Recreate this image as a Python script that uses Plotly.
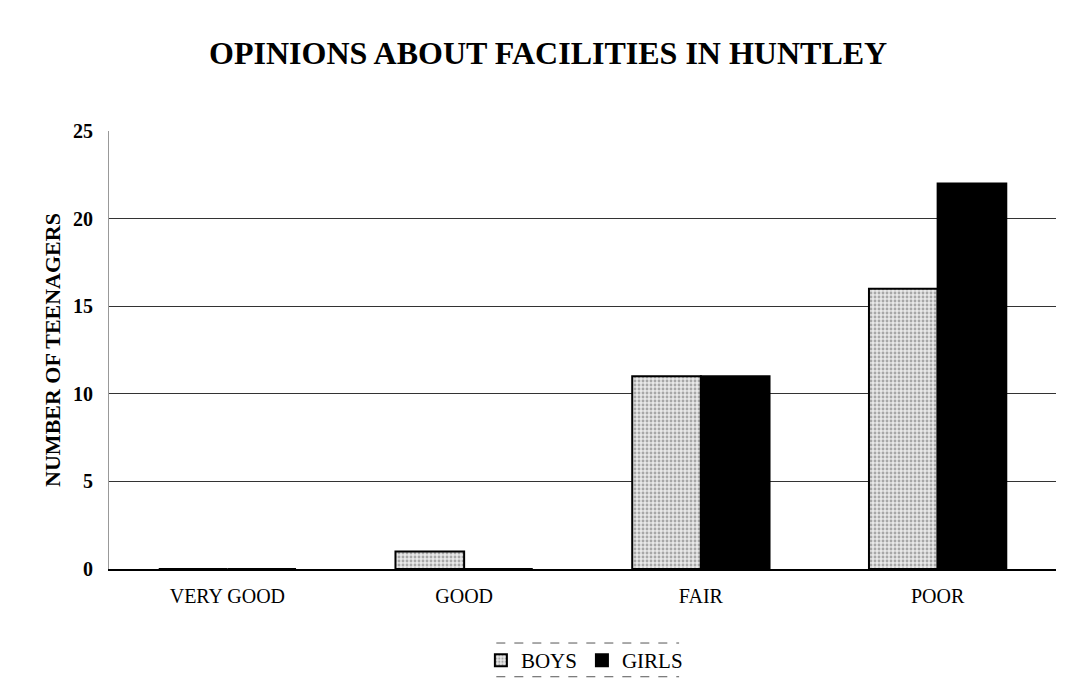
import plotly.graph_objects as go

categories = ["VERY GOOD", "GOOD", "FAIR", "POOR"]
boys = [0, 1, 11, 16]
girls = [0, 0, 11, 22]
y_ticks = [0, 5, 10, 15, 20, 25]

serif = "Liberation Serif, Times New Roman, serif"

fig = go.Figure()
fig.add_trace(go.Bar(
    name="BOYS", x=categories, y=boys,
    marker=dict(color="#e6e6e6", line=dict(color="black", width=2),
                pattern=dict(shape=".", fgcolor="#666666", bgcolor="#e8e8e8", size=4, solidity=0.4)),
))
fig.add_trace(go.Bar(
    name="GIRLS", x=categories, y=girls,
    marker=dict(color="black", line=dict(color="black", width=2)),
))

fig.update_layout(
    width=1076, height=679,
    paper_bgcolor="white", plot_bgcolor="white",
    margin=dict(l=101, r=28, t=123, b=118, autoexpand=False),
    barmode="group", bargap=0.42, bargroupgap=0,
    title=dict(text="<b>OPINIONS ABOUT FACILITIES IN HUNTLEY</b>", x=0.502, xanchor="center",
               y=0.934, yanchor="middle", font=dict(family=serif, size=32, color="black")),
    font=dict(family=serif, color="black"),
    showlegend=True,
    legend=dict(orientation="h", x=0.502, xanchor="center", yref="container", y=0.039, yanchor="middle",
                font=dict(family=serif, size=21, color="black"),
                itemwidth=30, traceorder="normal", bgcolor="rgba(0,0,0,0)"),
    shapes=[
        dict(type="line", xref="paper", yref="paper", x0=0.409, x1=0.602, y0=-0.169, y1=-0.169,
             line=dict(color="#555555", width=1, dash="dash")),
        dict(type="line", xref="paper", yref="paper", x0=0.409, x1=0.602, y0=-0.246, y1=-0.246,
             line=dict(color="#555555", width=1, dash="dash")),
    ],
)

fig.update_xaxes(
    showline=True, linecolor="black", linewidth=2, mirror=False,
    tickfont=dict(family=serif, size=20, color="black"), ticks="", ticklabelstandoff=8,
)
fig.update_yaxes(
    range=[0, 25], tickvals=y_ticks, showgrid=True, gridcolor="#333333", gridwidth=1,
    zeroline=False, showline=True, linecolor="#999999", linewidth=1,
    tickfont=dict(family=serif, size=20, color="black", weight="bold"), ticks="", ticklabelstandoff=11,
    title=dict(text="<b>NUMBER OF TEENAGERS</b>", font=dict(family=serif, size=22, color="black"), standoff=6),
)

fig.write_html("out.html")
